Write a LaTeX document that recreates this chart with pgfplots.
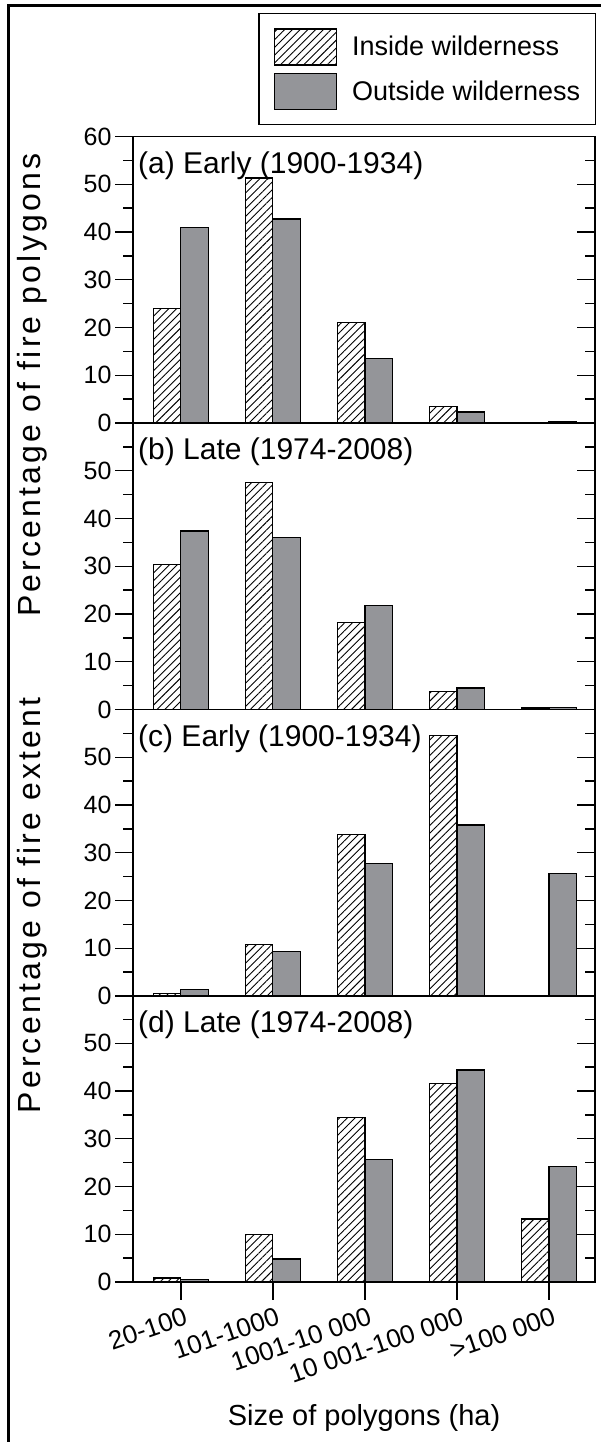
\documentclass[border=0pt]{standalone}
\usepackage{fontspec}
\setmainfont{Liberation Sans}
\newfontfamily\ylabfont{Liberation Sans}[LetterSpace=10]
\usepackage{pgfplots}
\pgfplotsset{compat=1.18}
\usetikzlibrary{patterns.meta}
\definecolor{bargray}{RGB}{148,149,153}
\newcommand\xl[1]{\fontsize{26}{26}\selectfont #1}
\tikzset{plab/.style={anchor=north west, inner sep=0pt, xshift=5pt, yshift=-15pt, font=\fontsize{30}{30}\selectfont}}
\pgfplotsset{
  panel/.style={
    anchor=south west, width=462pt, height=286.5pt, scale only axis,
    xmin=-0.52, xmax=4.5, ymin=0, ymax=60,
    axis line style={line width=1.6pt},
    every tick/.style={line width=1.3pt, black},
    major tick length=18pt, minor tick length=10pt,
    ytick={0,10,...,50}, minor ytick={5,15,...,55},
    xtick=\empty,
    tick label style={font=\fontsize{25}{25}\selectfont},
    /pgf/number format/assume math mode=true,
    clip=false,
  },
  rpanel/.style={panel, ytick pos=right, tick align=inside, yticklabels={}},
  lpanel/.style={panel, ytick pos=left, tick align=outside},
  inb/.style={ybar, bar width=0.3, bar shift=-0.15, draw=black, line width=1.2pt,
    pattern={Lines[angle=45,distance=5.5pt,line width=0.9pt]},
    legend image code/.code={\draw[##1] (0pt,-18pt) rectangle (62pt,18pt);}},
  outb/.style={ybar, bar width=0.3, bar shift=0.15, draw=black, line width=1.2pt, fill=bargray,
    legend image code/.code={\draw[##1] (0pt,-18pt) rectangle (62pt,18pt);}},
}
\begin{document}
\begin{tikzpicture}
\useasboundingbox (0pt,0pt) rectangle (600pt,1442pt);
\draw[line width=3pt] (8pt,0pt) -- (8pt,1436pt) -- (601pt,1436pt);
% ---------- (a)
\begin{axis}[lpanel, at={(133pt,1019pt)}, ytick={0,10,...,60},
  ylabel={\ylabfont Percentage of fire polygons},
  ylabel style={at={(rel axis cs:-0.2186,0.132)}, anchor=center, font=\fontsize{32}{32}\selectfont},
  legend style={at={(1,1)}, anchor=south east, xshift=1pt, yshift=11pt,
    draw=black, line width=1.5pt, inner xsep=15pt, inner ysep=15pt,
    row sep=7pt, column sep=15pt, font=\fontsize{27}{27}\selectfont,
    nodes={inner sep=0pt, anchor=west}},
  legend cell align=left,
]
\addplot[inb] coordinates {(0,24.0) (1,51.3) (2,21.1) (3,3.5)};
\addplot[outb] coordinates {(0,40.9) (1,42.7) (2,13.5) (3,2.3) (4,0.35)};
\legend{Inside wilderness, Outside wilderness}
\node[plab] at (rel axis cs:0,1) {(a) Early (1900-1934)};
\end{axis}
\begin{axis}[rpanel, at={(133pt,1019pt)}, ytick={0,10,...,60}]
\end{axis}
% ---------- (b)
\begin{axis}[lpanel, at={(133pt,732.5pt)}]
\addplot[inb] coordinates {(0,30.3) (1,47.6) (2,18.2) (3,3.7) (4,0.3)};
\addplot[outb] coordinates {(0,37.4) (1,36.0) (2,21.8) (3,4.5) (4,0.4)};
\node[plab] at (rel axis cs:0,1) {(b) Late (1974-2008)};
\end{axis}
\begin{axis}[rpanel, at={(133pt,732.5pt)}]
\end{axis}
% ---------- (c)
\begin{axis}[lpanel, at={(133pt,446pt)},
  ylabel={\ylabfont Percentage of fire extent},
  ylabel style={at={(rel axis cs:-0.2186,0.316)}, anchor=center, font=\fontsize{32}{32}\selectfont},
]
\addplot[inb] coordinates {(0,0.6) (1,10.8) (2,33.8) (3,54.6)};
\addplot[outb] coordinates {(0,1.4) (1,9.4) (2,27.7) (3,35.8) (4,25.6)};
\node[plab] at (rel axis cs:0,1) {(c) Early (1900-1934)};
\end{axis}
\begin{axis}[rpanel, at={(133pt,446pt)}]
\end{axis}
% ---------- (d)
\begin{axis}[lpanel, at={(133pt,160pt)},
  xtick={0,1,2,3,4}, xtick pos=bottom,
  xticklabels={\xl{20-100}, \xl{101-1000}, \xl{1001-10 000}, \xl{10 001-100 000}, \xl{>100 000}},
  xticklabel style={rotate=19, anchor=north east, inner sep=0pt, yshift=-7pt},
  xlabel={Size of polygons (ha)},
  xlabel style={at={(rel axis cs:0.5,0)}, anchor=center, yshift=-136pt, font=\fontsize{29}{29}\selectfont},
]
\addplot[inb] coordinates {(0,0.85) (1,9.9) (2,34.4) (3,41.5) (4,13.2)};
\addplot[outb] coordinates {(0,0.6) (1,4.8) (2,25.6) (3,44.4) (4,24.2)};
\node[plab] at (rel axis cs:0,1) {(d) Late (1974-2008)};
\end{axis}
\begin{axis}[rpanel, at={(133pt,160pt)}]
\end{axis}
\end{tikzpicture}
\end{document}
